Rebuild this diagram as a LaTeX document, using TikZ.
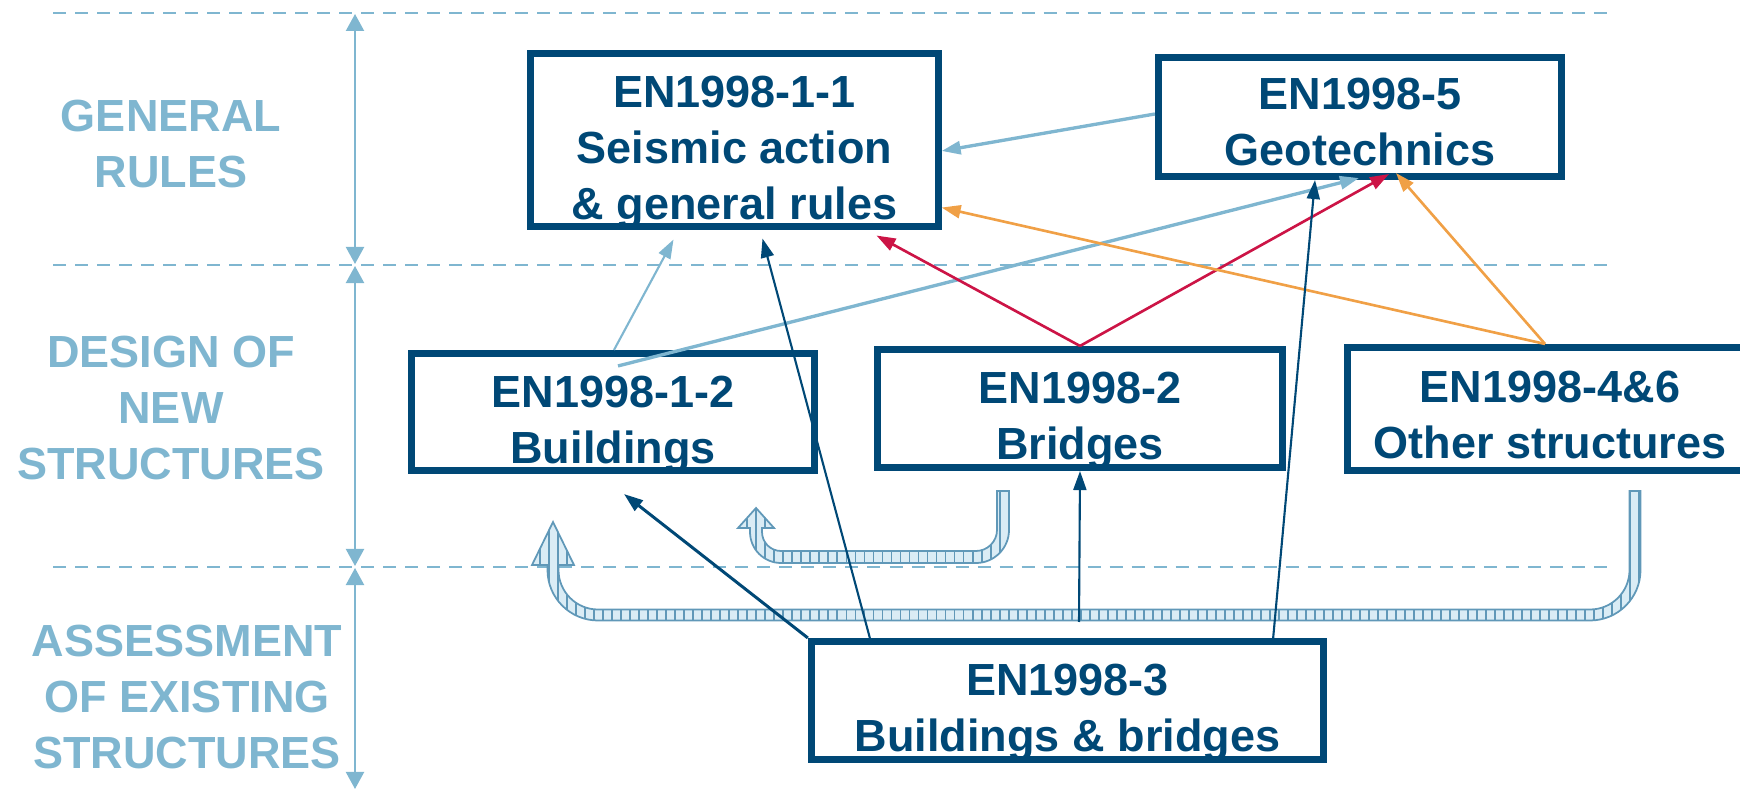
\documentclass[tikz,border=0pt]{standalone}
\usepackage{fontspec}
\setmainfont{Liberation Sans}
\usetikzlibrary{arrows.meta,calc,patterns.meta}
\definecolor{navy}{RGB}{0,72,118}
\definecolor{lblue}{RGB}{127,182,208}
\definecolor{crim}{RGB}{204,20,70}
\definecolor{orng}{RGB}{240,160,70}
\definecolor{bandfill}{RGB}{218,236,245}
\definecolor{bandline}{RGB}{96,152,184}
\newcommand{\mylines}[1]{\begin{tabular}{@{}c@{}}#1\end{tabular}}
\begin{document}
\begin{tikzpicture}[x=0.01cm,y=-0.01cm,
  every node/.style={font=\fontsize{12.8}{15.94}\selectfont\bfseries, inner sep=0pt},
  gbox/.style={draw=navy, line width=0.07cm, fill=none},
  gtext/.style={text=navy},
  lab/.style={text=lblue},
  sep/.style={draw=lblue, line width=0.7pt, dash pattern=on 0.13cm off 0.09cm},
  span/.style={draw=lblue, line width=0.6pt, {Triangle[length=0.17cm,width=0.18cm]}-{Triangle[length=0.17cm,width=0.18cm]}},
  tip/.style={-{Triangle[length=0.19cm,width=0.13cm]}},
  lbthin/.style={tip, draw=lblue, fill=lblue, line width=0.6pt},
  lbthick/.style={tip, draw=lblue, fill=lblue, line width=0.95pt},
  nvthin/.style={tip, draw=navy, fill=navy, line width=0.6pt},
  nvthick/.style={tip, draw=navy, fill=navy, line width=0.85pt},
  redc/.style={tip, draw=crim, fill=crim, line width=0.75pt},
  orac/.style={tip, draw=orng, fill=orng, line width=0.75pt},
  band/.style={draw=bandline, line width=0.5pt, preaction={fill=bandfill},
    pattern={Lines[angle=90,distance=0.09cm,line width=0.55pt]}, pattern color=bandline}
]
\useasboundingbox (0,0) rectangle (1740,789);

% separators
\coordinate (s1l) at (53,13);   \coordinate (s1r) at (1607,13);
\coordinate (s2l) at (53,265);  \coordinate (s2r) at (1607,265);
\coordinate (s3l) at (53,567);  \coordinate (s3r) at (1607,567);
\draw[sep] (s1l) -- (s1r);
\draw[sep] (s2l) -- (s2r);
\draw[sep] (s3l) -- (s3r);

% spans
\coordinate (v1a) at (355,14);  \coordinate (v1b) at (355,264);
\coordinate (v2a) at (355,266); \coordinate (v2b) at (355,566);
\coordinate (v3a) at (355,568); \coordinate (v3b) at (355,789);
\draw[span] (v1a) -- (v1b);
\draw[span] (v2a) -- (v2b);
\draw[span] (v3a) -- (v3b);

% section labels
\node[lab] (lgen) at (171,148.5) {\mylines{GENERAL\\RULES}};
\node[lab] (ldes) at (171,412) {\mylines{DESIGN OF\\NEW\\STRUCTURES}};
\node[lab] (lass) at (187,701) {\mylines{ASSESSMENT\\OF EXISTING\\STRUCTURES}};

% boxes
\node[gbox, minimum width=4.07cm, minimum height=1.72cm] (g11) at (734.5,140) {};
\node[gbox, minimum width=4.03cm, minimum height=1.19cm] (g5) at (1360,117) {};
\node[gbox, minimum width=4.03cm, minimum height=1.17cm] (g12) at (613,412) {};
\node[gbox, minimum width=4.05cm, minimum height=1.18cm] (g2) at (1080,408.5) {};
\node[gbox, minimum width=4.05cm, minimum height=1.23cm] (g46) at (1550,409) {};
\node[gbox, minimum width=5.12cm, minimum height=1.18cm] (g3) at (1067.5,700.5) {};

% box texts
\node[gtext] (t11) at (734.5,152) {\mylines{EN1998-1-1\\Seismic action\\\& general rules}};
\node[gtext] (t5) at (1360,126) {\mylines{EN1998-5\\Geotechnics}};
\node[gtext] (t12) at (613,424.5) {\mylines{EN1998-1-2\\Buildings}};
\node[gtext] (t2) at (1080,420) {\mylines{EN1998-2\\Bridges}};
\node[gtext] (t46) at (1550,419) {\mylines{EN1998-4\&6\\Other structures}};
\node[gtext] (t3) at (1067.5,712.5) {\mylines{EN1998-3\\Buildings \& bridges}};

% hollow striped arrows
\path[band] (553,522) -- (574,565) -- (558.5,565) -- (558.5,570)
  .. controls (558.5,591.8) and (576.2,609.5) .. (598,609.5) -- (1590,609.5)
  .. controls (1611.8,609.5) and (1629.5,591.8) .. (1629.5,570) -- (1629.5,491)
  -- (1640.5,491) -- (1640.5,570)
  .. controls (1640.5,597.9) and (1617.9,620.5) .. (1590,620.5) -- (598,620.5)
  .. controls (570.1,620.5) and (547.5,597.9) .. (547.5,570) -- (547.5,565)
  -- (532,565) -- cycle;
\path[band] (756,508) -- (774,528) -- (762,528) -- (762,532)
  .. controls (762,542.5) and (770.5,551) .. (781,551) -- (976,551)
  .. controls (987.6,551) and (997,541.4) .. (997,530) -- (997,491)
  -- (1009,491) -- (1009,530)
  .. controls (1009,548.2) and (994.2,563) .. (976,563) -- (781,563)
  .. controls (763.9,563) and (750,549.1) .. (750,532) -- (750,528)
  -- (738,528) -- cycle;

% connectors
\draw[lbthick] ($(g5.west)+(0,-3)$) -- ($(g11.east)+(0,11)$);
\draw[lbthin] ($(g12.north)+(1,0)$) -- ($(g11.south)+(-61,10)$);
\draw[lbthick] ($(g12.north)+(5,16)$) -- ($(g5.south)+(-1,-2)$);
\draw[nvthin] ($(g3.north west)+(62,0)$) -- ($(g11.south)+(28,9)$);
\draw[redc] (g2.north) -- ($(g11.south)+(142,6)$);
\draw[redc] (g2.north) -- ($(g5.south)+(29,-6)$);
\draw[orac] ($(g46.north)+(-5,0)$) -- ($(g11.south east)+(0,-22)$);
\draw[orac] ($(g46.north)+(-5,0)$) -- ($(g5.south)+(36,-7)$);
\draw[nvthin] ($(g3.north east)+(-54,0)$) -- ($(g5.south)+(-45,0)$);
\draw[nvthick] (g3.north west) -- ($(g12.south)+(11,20)$);
\coordinate (bandpt) at (1079,622);
\draw[nvthin] (bandpt) -- (g2.south);

\end{tikzpicture}
\end{document}
